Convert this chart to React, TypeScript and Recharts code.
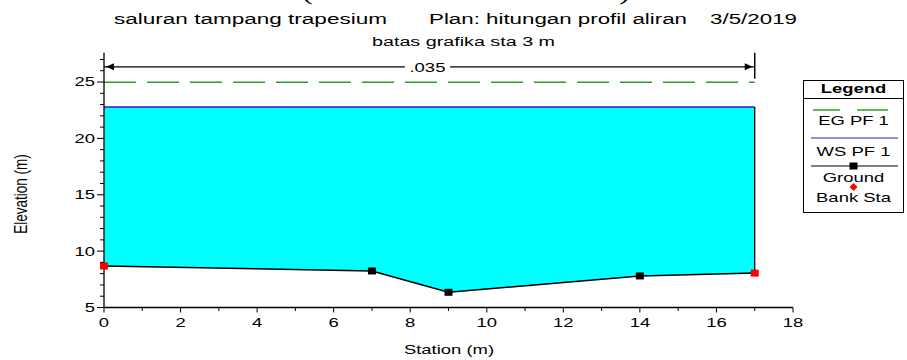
import React from "react";
import {
  ComposedChart,
  Area,
  Line,
  XAxis,
  YAxis,
  ReferenceLine,
  ReferenceDot,
  Legend,
} from "recharts";

// cross section: station (m) vs elevation (m)
const stations = [0, 7, 9, 14, 17];
const groundElev = [8.68, 8.24, 6.35, 7.8, 8.05];
const wsElev = [22.78, 22.78, 22.78, 22.78, 22.78];
const egElev = [24.98, 24.98, 24.98, 24.98, 24.98];
const bankStations = [0, 17];

// manning n marker above the section
const manningN = ".035";
const nSpan = [0, 17];
const nElev = 26.35;
const nLabelGap = [7.86, 9.04];
const nLabelStation = 8.45;
const nMarkerElev = [25.3, 27.6];

const xTicks = [0, 1, 2, 3, 4, 5, 6, 7, 8, 9, 10, 11, 12, 13, 14, 15, 16, 17, 18];
const xMajor = [0, 2, 4, 6, 8, 10, 12, 14, 16, 18];
const yTicks = [5, 6, 7, 8, 9, 10, 11, 12, 13, 14, 15, 16, 17, 18, 19, 20, 21, 22, 23, 24, 25, 26, 27];
const yMajor = [5, 10, 15, 20, 25];

const titleParts = ["saluran tampang trapesium", "Plan: hitungan profil aliran", "3/5/2019"];
const subtitle = "batas grafika sta 3 m";
const sourceNote = "(Sumber : Hasil Analisa)";
const legendLabels = ["EG PF 1", "WS PF 1", "Ground", "Bank Sta"];

const rows = stations.map((s, i) => ({
  station: s,
  ground: groundElev[i],
  ws: wsElev[i],
  eg: egElev[i],
  water: [groundElev[i], wsElev[i]],
}));

const FONT = "'Liberation Sans', Arial, sans-serif";
const SX = 1.42;
const GREEN = "#2f9a2f";
const BLUE = "#2020c8";

function WideText(props: any) {
  const { x, y, children, size = 13, anchor = "middle", weight, rotate } = props;
  return (
    <text
      transform={`translate(${x},${y}) scale(${SX},1)${rotate ? ` rotate(${rotate})` : ""}`}
      textAnchor={anchor}
      dominantBaseline="central"
      fontSize={size}
      fontFamily={FONT}
      fontWeight={weight}
      fill="#000"
    >
      {children}
    </text>
  );
}

const YTick = (p: any) => {
  const v = p.payload.value;
  const major = yMajor.includes(v);
  return (
    <g>
      <line x1={p.x} x2={p.x - (major ? 7 : 4)} y1={p.y} y2={p.y} stroke="#000" />
      {major && (
        <WideText x={p.x - 9} y={p.y} anchor="end">
          {v}
        </WideText>
      )}
    </g>
  );
};

const XTick = (p: any) => {
  const v = p.payload.value;
  const major = xMajor.includes(v);
  return (
    <g>
      <line x1={p.x} x2={p.x} y1={p.y} y2={p.y + (major ? 5 : 3.5)} stroke="#000" />
      {major && (
        <WideText x={p.x} y={p.y + 15}>
          {v}
        </WideText>
      )}
    </g>
  );
};

const GroundDot = (p: any) => {
  const bank = bankStations.includes(p.payload.station);
  return (
    <rect
      key={`g-${p.index}`}
      x={p.cx - 4}
      y={p.cy - 3.5}
      width={8}
      height={7}
      fill={bank ? "#ff0000" : "#000"}
    />
  );
};

function LegendBox() {
  const w = 101;
  const h = 133;
  const mid = w / 2;
  return (
    <svg width={w} height={h} style={{ display: "block" }}>
      <rect x={0.5} y={0.5} width={w - 1} height={h - 1} fill="#fff" stroke="#000" />
      <WideText x={mid} y={9} weight="bold">
        Legend
      </WideText>
      <line x1={0} x2={w} y1={18.5} y2={18.5} stroke="#000" />
      <line x1={10} x2={37} y1={30} y2={30} stroke={GREEN} strokeWidth={1.5} />
      <line x1={54} x2={85} y1={30} y2={30} stroke={GREEN} strokeWidth={1.5} />
      <WideText x={mid} y={41}>{legendLabels[0]}</WideText>
      <line x1={8} x2={95} y1={58} y2={58} stroke={BLUE} strokeWidth={1.2} />
      <WideText x={mid} y={72}>{legendLabels[1]}</WideText>
      <line x1={8} x2={95} y1={86} y2={86} stroke="#000" strokeWidth={1.2} />
      <rect x={mid - 4} y={82.5} width={8} height={7} fill="#000" />
      <WideText x={mid} y={98}>{legendLabels[2]}</WideText>
      <path d={`M${mid} ${103} L${mid + 4} ${107} L${mid} ${111} L${mid - 4} ${107} Z`} fill="#ff0000" />
      <WideText x={mid} y={118}>{legendLabels[3]}</WideText>
    </svg>
  );
}

const arrowLeft = (p: any) => (
  <path d={`M${p.cx + 2} ${p.cy} L${p.cx + 10} ${p.cy - 3.5} L${p.cx + 10} ${p.cy + 3.5} Z`} fill="#000" />
);
const arrowRight = (p: any) => (
  <path d={`M${p.cx - 2} ${p.cy} L${p.cx - 10} ${p.cy - 3.5} L${p.cx - 10} ${p.cy + 3.5} Z`} fill="#000" />
);
const nLabel = (p: any) => (
  <WideText x={p.cx} y={p.cy + 1}>
    {manningN}
  </WideText>
);

export default function App() {
  const last = stations.length - 1;
  return (
    <div style={{ position: "absolute", left: 0, top: 0, width: 907, height: 360, background: "#fff" }}>
      <ComposedChart
        width={907}
        height={360}
        data={rows}
        margin={{ top: 52.7, right: 114, bottom: 22.5, left: 44 }}
      >
        <XAxis
          dataKey="station"
          type="number"
          domain={[0, 18]}
          ticks={xTicks}
          interval={0}
          tickSize={0}
          tickMargin={0}
          tickLine={false}
          tick={<XTick />}
          height={30}
          axisLine={{ stroke: "#000", strokeWidth: 1.3 }}
        />
        <YAxis
          type="number"
          domain={[5, 27.6]}
          ticks={yTicks}
          interval={0}
          tickSize={0}
          tickMargin={0}
          tickLine={false}
          tick={<YTick />}
          width={60}
          allowDataOverflow
          axisLine={{ stroke: "#000", strokeWidth: 1.3 }}
        />
        <Area
          dataKey="water"
          type="linear"
          fill="#00ffff"
          fillOpacity={1}
          stroke="none"
          isAnimationActive={false}
        />
        <Line dataKey="ws" type="linear" stroke={BLUE} strokeWidth={1.5} dot={false} isAnimationActive={false} />
        <Line
          dataKey="eg"
          type="linear"
          stroke={GREEN}
          strokeWidth={1.5}
          strokeDasharray="32 11"
          dot={false}
          isAnimationActive={false}
        />
        <ReferenceLine
          segment={[
            { x: stations[last], y: groundElev[last] },
            { x: stations[last], y: wsElev[last] },
          ]}
          stroke="#000"
          strokeWidth={1.3}
        />
        <ReferenceLine
          segment={[
            { x: nSpan[1], y: nMarkerElev[0] },
            { x: nSpan[1], y: nMarkerElev[1] },
          ]}
          stroke="#000"
          strokeWidth={1.5}
        />
        <ReferenceLine
          segment={[
            { x: nSpan[0], y: nElev },
            { x: nLabelGap[0], y: nElev },
          ]}
          stroke="#000"
          strokeWidth={1.3}
        />
        <ReferenceLine
          segment={[
            { x: nLabelGap[1], y: nElev },
            { x: nSpan[1], y: nElev },
          ]}
          stroke="#000"
          strokeWidth={1.3}
        />
        <ReferenceDot x={nSpan[0]} y={nElev} r={0} shape={arrowLeft} />
        <ReferenceDot x={nSpan[1]} y={nElev} r={0} shape={arrowRight} />
        <ReferenceDot x={nLabelStation} y={nElev} r={0} shape={nLabel} />
        <Line
          dataKey="ground"
          type="linear"
          stroke="#000"
          strokeWidth={1.5}
          dot={GroundDot}
          isAnimationActive={false}
        />
        <Legend
          layout="vertical"
          align="center"
          verticalAlign="middle"
          content={() => <LegendBox />}
          wrapperStyle={{ left: 803, top: 80, width: 101, height: 133 }}
        />
      </ComposedChart>
      <svg
        width={907}
        height={360}
        style={{ position: "absolute", left: 0, top: 0, pointerEvents: "none" }}
      >
        <text
          x={302}
          y={0}
          textLength={328}
          lengthAdjust="spacingAndGlyphs"
          fontSize={20}
          fontFamily="'Liberation Serif', 'Times New Roman', serif"
          fill="#000"
        >
          {sourceNote}
        </text>
        <text x={114} y={24} textLength={273} lengthAdjust="spacingAndGlyphs" fontSize={15.5} fontFamily={FONT} fill="#000">
          {titleParts[0]}
        </text>
        <text x={429} y={24} textLength={258} lengthAdjust="spacingAndGlyphs" fontSize={15.5} fontFamily={FONT} fill="#000">
          {titleParts[1]}
        </text>
        <text x={710} y={24} textLength={87} lengthAdjust="spacingAndGlyphs" fontSize={15.5} fontFamily={FONT} fill="#000">
          {titleParts[2]}
        </text>
        <text x={372} y={46} textLength={183} lengthAdjust="spacingAndGlyphs" fontSize={12.5} fontFamily={FONT} fill="#000">
          {subtitle}
        </text>
        <WideText x={449} y={350}>
          Station (m)
        </WideText>
        <WideText x={21} y={194} size={13.5} rotate={-90}>
          Elevation (m)
        </WideText>
      </svg>
    </div>
  );
}
